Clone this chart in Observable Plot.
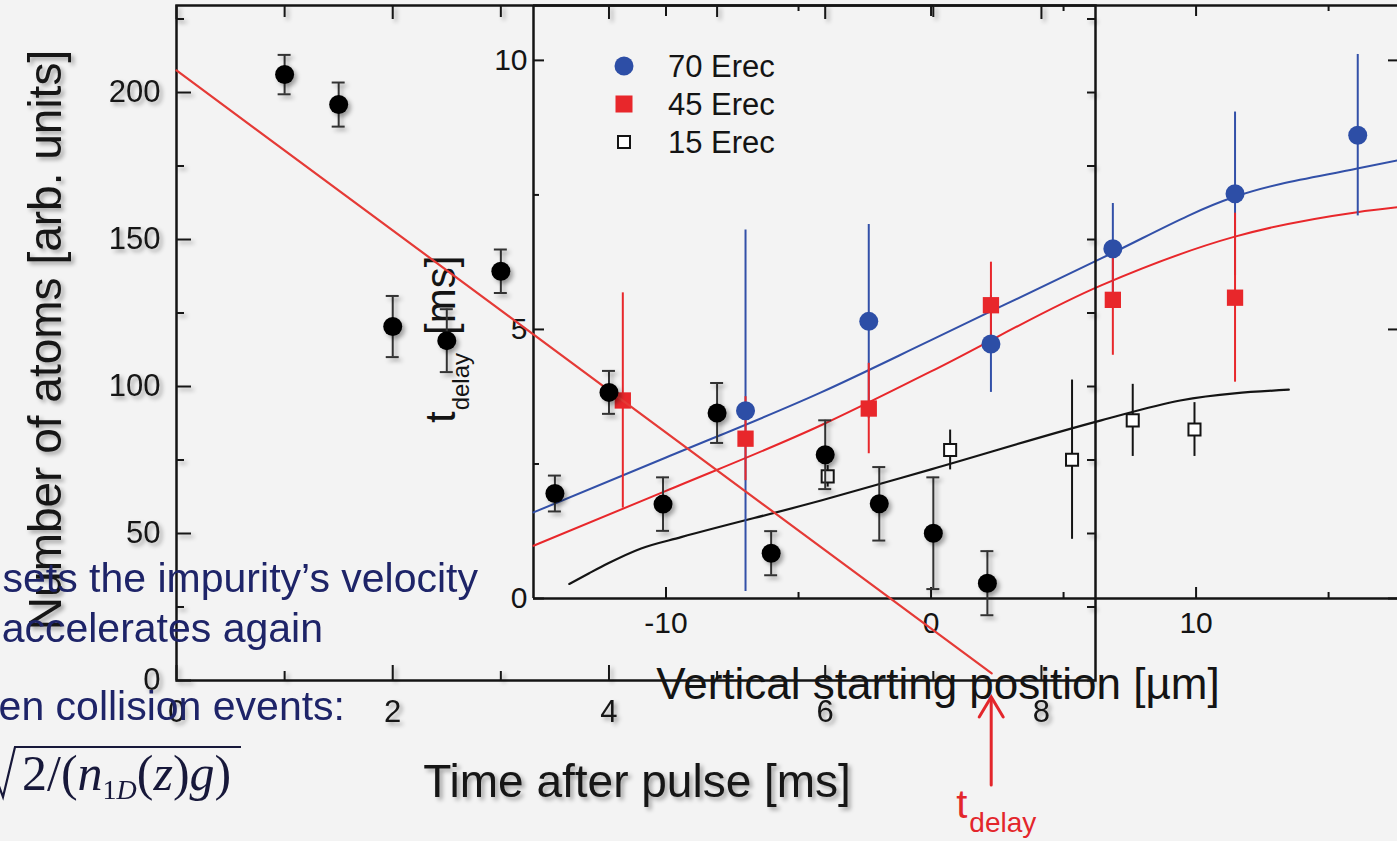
<!DOCTYPE html>
<html lang="en">
<head>
<meta charset="utf-8">
<title>Atom number and delay time</title>
<script src="https://cdn.jsdelivr.net/npm/d3@7"></script>
<script src="https://cdn.jsdelivr.net/npm/@observablehq/plot@0.6"></script>
<style>
  html, body { margin: 0; padding: 0; background: #f3f3f3; }
  #stage { position: relative; width: 1397px; height: 841px; overflow: hidden; background: #f3f3f3; }
  #stage > svg { position: absolute; left: 0; top: 0; max-width: none !important; }
</style>
</head>
<body>
<div id="stage"></div>
<script>
// ---------- Outer panel: atom number after the pulse ----------
const pulseTime  = [1.0, 1.5, 2.0, 2.5, 3.0, 3.5, 4.0, 4.5, 5.0, 5.5, 6.0, 6.5, 7.0, 7.5];
const atomNumber = [206.1, 195.9, 120.4, 115.6, 139.2, 63.6, 98.0, 60.0, 91.0, 43.3, 76.8, 60.1, 50.1, 33.1];
const atomError  = [6.7, 7.5, 10.4, 10.7, 7.4, 6.1, 7.3, 9.1, 10.2, 7.5, 11.7, 12.5, 19.0, 10.9];
// linear fit of the decay, ending where it meets the axis (t_delay)
const decayFitTime  = [0, 7.54];
const decayFitAtoms = [207.5, 2.4];
const tDelay = 7.54;
const timeTicks      = [0, 2, 4, 6, 8];
const timeMinorTicks = [1, 3, 5, 7];
const atomTicks      = [0, 50, 100, 150, 200];
const atomMinorTicks = [25, 75, 125, 175, 225];

// ---------- Inset panel: delay time vs vertical starting position ----------
const seriesNames = ["70 Erec", "45 Erec", "15 Erec"];
const pos70   = [-7.0, -2.35, 2.26, 6.86, 11.47, 16.1];
const delay70 = [3.49, 5.15, 4.73, 6.50, 7.52, 8.61];
const err70   = [3.36, 1.80, 0.90, 0.84, 1.52, 1.50];
const pos45   = [-11.63, -7.0, -2.35, 2.26, 6.86, 11.47];
const delay45 = [3.68, 2.97, 3.53, 5.45, 5.55, 5.59];
const err45   = [2.00, 0.78, 0.84, 0.80, 1.03, 1.57];
const pos15   = [-3.9, 0.72, 5.32, 7.61, 9.94];
const delay15 = [2.27, 2.76, 2.58, 3.31, 3.14];
const err15   = [0.20, 0.37, 1.48, 0.67, 0.50];
// model curves
const fit70Pos   = [-15, -10, -4.15, 0, 6.42, 11.43, 16.08, 17.6];
const fit70Delay = [1.60, 2.62, 3.83, 4.80, 6.32, 7.46, 7.99, 8.14];
const fit45Pos   = [-15, -10, -4.15, 0, 6.42, 11.43, 16.08, 17.6];
const fit45Delay = [0.98, 2.00, 3.22, 4.22, 5.82, 6.72, 7.18, 7.27];
const fit15Pos   = [-13.65, -12.9, -12.2, -10.94, -9.43, -4.15, 0, 6.42, 9.4, 13.5];
const fit15Delay = [0.27, 0.47, 0.65, 0.93, 1.14, 1.82, 2.40, 3.31, 3.68, 3.88];
const posTicks        = [-10, 0, 10];
const posMinorTicks   = [-5, 5, 15];
const delayTicks      = [0, 5, 10];
const delayMinorTicks = [2.5, 7.5];

// ---------- styling ----------
const W = 1397, H = 841;
const ink = "#141414", blue = "#3250a8", red = "#e8272b", fitRed = "#e53a36", navy = "#1e2468";
const sans = "Liberation Sans, Arial, Helvetica, sans-serif";
const serif = "Liberation Serif, Times New Roman, serif";

const rows = (xs, ys, es) => xs.map((x, i) => ({x, y: ys[i], e: es ? es[i] : 0}));
const atoms = rows(pulseTime, atomNumber, atomError);
const decayFit = rows(decayFitTime, decayFitAtoms);
const s70 = rows(pos70, delay70, err70);
const s45 = rows(pos45, delay45, err45);
const s15 = rows(pos15, delay15, err15);
const f70 = rows(fit70Pos, fit70Delay);
const f45 = rows(fit45Pos, fit45Delay);
const f15 = rows(fit15Pos, fit15Delay);

const stage = document.getElementById("stage");

// ===== Inset panel =====
const iM = {left: 533, right: 0, top: 5, bottom: 243};
const iW = W - iM.left - iM.right, iH = H - iM.top - iM.bottom;
const posDomain = [-15, 17.6], delayDomain = [0, 11.02];
const frameLine = {stroke: ink, strokeWidth: 2.5};
const tickLine = {stroke: ink, strokeWidth: 2};

const inset = Plot.plot({
  width: W, height: H,
  marginLeft: iM.left, marginRight: iM.right, marginTop: iM.top, marginBottom: iM.bottom,
  x: {domain: posDomain},
  y: {domain: delayDomain},
  style: {background: "transparent", fontFamily: sans, fontSize: "30px", color: ink, overflow: "visible"},
  marks: [
    // frame: left, bottom, top
    Plot.ruleX([posDomain[0]], frameLine),
    Plot.ruleY([delayDomain[0]], frameLine),
    Plot.ruleY([delayDomain[1]], frameLine),
    // inward ticks
    Plot.ruleX(posTicks, {...tickLine, insetTop: iH - 11}),
    Plot.ruleX(posMinorTicks, {...tickLine, insetTop: iH - 6}),
    Plot.ruleX(posTicks, {...tickLine, insetBottom: iH - 11}),
    Plot.ruleX(posMinorTicks, {...tickLine, insetBottom: iH - 6}),
    Plot.ruleY(delayTicks, {...tickLine, insetRight: iW - 11}),
    Plot.ruleY(delayMinorTicks, {...tickLine, insetRight: iW - 6}),
    Plot.ruleY(delayTicks, {...tickLine, insetLeft: iW - 9}),
    Plot.axisX(posTicks, {anchor: "bottom", tickSize: 0, tickPadding: 13, label: null, tickFormat: d => d < 0 ? "-" + (-d) : String(d)}),
    Plot.axisY(delayTicks, {anchor: "left", tickSize: 0, tickPadding: 6, label: null, tickFormat: d => String(d)}),
    // model curves
    Plot.line(f70, {x: "x", y: "y", curve: "monotone-x", stroke: blue, strokeWidth: 2}),
    Plot.line(f45, {x: "x", y: "y", curve: "monotone-x", stroke: red, strokeWidth: 2}),
    Plot.line(f15, {x: "x", y: "y", curve: "monotone-x", stroke: ink, strokeWidth: 2.2}),
    // error bars and points
    Plot.ruleX(s15, {x: "x", y1: d => d.y - d.e, y2: d => d.y + d.e, stroke: ink, strokeWidth: 2}),
    Plot.ruleX(s70, {x: "x", y1: d => d.y - d.e, y2: d => d.y + d.e, stroke: blue, strokeWidth: 2}),
    Plot.ruleX(s45, {x: "x", y1: d => d.y - d.e, y2: d => d.y + d.e, stroke: red, strokeWidth: 2}),
    Plot.dot(s45, {x: "x", y: "y", symbol: "square", r: 9.2, fill: red}),
    Plot.dot(s70, {x: "x", y: "y", r: 9.5, fill: "#2d4ea6"}),
    Plot.dot(s15, {x: "x", y: "y", symbol: "square", r: 6.8, fill: "white", stroke: ink, strokeWidth: 2})
  ]
});
stage.appendChild(inset);

{
  const g = d3.select(inset);
  // axis titles
  g.append("text")
    .attr("x", 938).attr("y", 699)
    .attr("text-anchor", "middle")
    .attr("font-family", sans).attr("font-size", 44).attr("fill", ink)
    .text("Vertical starting position [µm]");
  const yt = g.append("text")
    .attr("transform", "translate(455,423) rotate(-90)")
    .attr("text-anchor", "start")
    .attr("font-family", sans).attr("font-size", 42).attr("fill", ink);
  yt.append("tspan").text("t");
  yt.append("tspan").attr("font-size", 24).attr("dy", 14).attr("dx", 1).text("delay");
  yt.append("tspan").attr("dy", -14).attr("dx", 18).text("[ms]");

  // legend
  const lg = g.append("g").attr("font-family", sans).attr("font-size", 31).attr("fill", ink)
    .attr("text-anchor", "start");
  const legendStyle = [
    {shape: "circle", fill: "#2d4ea6", stroke: "none"},
    {shape: "square", fill: red, stroke: "none", size: 17},
    {shape: "square", fill: "white", stroke: ink, size: 12}
  ];
  seriesNames.forEach((name, i) => {
    const cy = 66 + i * 38, cx = 624;
    const st = legendStyle[i];
    if (st.shape === "circle") {
      lg.append("circle").attr("cx", cx).attr("cy", cy).attr("r", 9.5).attr("fill", st.fill);
    } else {
      lg.append("rect").attr("x", cx - st.size / 2).attr("y", cy - st.size / 2)
        .attr("width", st.size).attr("height", st.size)
        .attr("fill", st.fill).attr("stroke", st.stroke).attr("stroke-width", 2);
    }
    lg.append("text").attr("x", 668).attr("y", cy + 11).text(name);
  });
}

// ===== Outer panel =====
const oM = {left: 176, right: 302, top: 5, bottom: 161};
const oW = W - oM.left - oM.right, oH = H - oM.top - oM.bottom;
const capHalf = 0.06;

const outer = Plot.plot({
  width: W, height: H,
  marginLeft: oM.left, marginRight: oM.right, marginTop: oM.top, marginBottom: oM.bottom,
  x: {domain: [0, 8.5]},
  y: {domain: [0, 229.6]},
  style: {background: "transparent", fontFamily: sans, fontSize: "31px", color: ink, overflow: "visible"},
  marks: [
    Plot.frame({stroke: ink, strokeWidth: 2.5}),
    Plot.ruleX(timeTicks, {...tickLine, insetTop: oH - 15}),
    Plot.ruleX(timeMinorTicks, {...tickLine, insetTop: oH - 9}),
    Plot.ruleX(timeTicks, {...tickLine, insetBottom: oH - 14}),
    Plot.ruleX(timeMinorTicks, {...tickLine, insetBottom: oH - 12}),
    Plot.ruleY(atomTicks, {...tickLine, insetRight: oW - 15}),
    Plot.ruleY(atomMinorTicks, {...tickLine, insetRight: oW - 8}),
    Plot.ruleY([...atomTicks, ...atomMinorTicks], {...tickLine, insetLeft: oW - 8}),
    Plot.axisX(timeTicks, {anchor: "bottom", tickSize: 0, tickPadding: 19, label: null}),
    Plot.axisY(atomTicks, {anchor: "left", tickSize: 0, tickPadding: 16, label: null}),
    Plot.line(decayFit, {x: "x", y: "y", stroke: fitRed, strokeWidth: 2.2}),
    Plot.ruleX(atoms, {x: "x", y1: d => d.y - d.e, y2: d => d.y + d.e, stroke: "#333", strokeWidth: 2}),
    Plot.ruleY(atoms, {y: d => d.y - d.e, x1: d => d.x - capHalf, x2: d => d.x + capHalf, stroke: "#333", strokeWidth: 2}),
    Plot.ruleY(atoms, {y: d => d.y + d.e, x1: d => d.x - capHalf, x2: d => d.x + capHalf, stroke: "#333", strokeWidth: 2}),
    Plot.dot(atoms, {x: "x", y: "y", r: 9.5, fill: "#000"})
  ]
});
stage.appendChild(outer);

{
  const g = d3.select(outer);
  // soft drop shadow under the printed parts of this panel
  const f = g.insert("defs", ":first-child").append("filter")
    .attr("id", "outer-shadow").attr("filterUnits", "userSpaceOnUse")
    .attr("x", 0).attr("y", 0).attr("width", W).attr("height", H);
  f.append("feDropShadow").attr("dx", 3).attr("dy", 3).attr("stdDeviation", 2.2)
    .attr("flood-color", "#000").attr("flood-opacity", 0.33);
  g.selectAll('g[aria-label="dot"], g[aria-label="rule"], g[aria-label="x-axis tick label"], g[aria-label="y-axis tick label"]')
    .attr("filter", "url(#outer-shadow)");

  const titles = g.append("g").attr("font-family", sans).attr("font-size", 46).attr("fill", ink)
    .attr("text-anchor", "middle")
    .attr("filter", "url(#outer-shadow)");
  titles.append("text")
    .attr("transform", "translate(61,340) rotate(-90)")
    .text("Number of atoms [arb. units]");
  titles.append("text")
    .attr("x", 637).attr("y", 797)
    .text("Time after pulse [ms]");

  // t_delay marker below the time axis
  const xs = outer.scale("x"), ys = outer.scale("y");
  const ax = xs.apply(tDelay), base = ys.apply(0);
  const arrow = g.append("g").attr("stroke", "#e3262b").attr("stroke-width", 3).attr("fill", "none")
    .attr("stroke-linecap", "round");
  arrow.append("line").attr("x1", ax).attr("x2", ax).attr("y1", base + 105).attr("y2", base + 18);
  arrow.append("path").attr("d", `M${ax - 12},${base + 37} L${ax},${base + 17} L${ax + 12},${base + 37}`);
  const lbl = g.append("text")
    .attr("x", ax - 35).attr("y", base + 138)
    .attr("text-anchor", "start")
    .attr("font-family", sans).attr("font-size", 40).attr("fill", "#e3262b");
  lbl.append("tspan").text("t");
  lbl.append("tspan").attr("font-size", 28).attr("dy", 14).attr("dx", 2).text("delay");
}

// ===== Slide text laid over the figure =====
{
  const top = d3.create("svg").attr("width", W).attr("height", H).attr("viewBox", `0 0 ${W} ${H}`);
  const body = top.append("g").attr("font-family", sans).attr("font-size", 41).attr("fill", navy)
    .attr("text-anchor", "end");
  body.append("text").attr("x", 478).attr("y", 592).text("sets the impurity’s velocity");
  body.append("text").attr("x", 323).attr("y", 642).text("accelerates again");
  body.append("text").attr("x", 345).attr("y", 720).text("en collision events:");

  const formulaInk = "#17183a";
  top.append("path")
    .attr("d", "M-4,778 L3,797 L15,747 L241,747")
    .attr("fill", "none").attr("stroke", formulaInk).attr("stroke-width", 2.2);
  const fx = top.append("text").attr("x", 22).attr("y", 790)
    .attr("font-family", serif).attr("font-size", 50).attr("fill", formulaInk);
  fx.append("tspan").text("2/(");
  fx.append("tspan").attr("font-style", "italic").text("n");
  fx.append("tspan").attr("font-size", 28).attr("dy", 9).text("1");
  fx.append("tspan").attr("font-size", 28).attr("font-style", "italic").text("D");
  fx.append("tspan").attr("dy", -9).text("(");
  fx.append("tspan").attr("font-style", "italic").text("z");
  fx.append("tspan").text(")");
  fx.append("tspan").attr("font-style", "italic").text("g");
  fx.append("tspan").text(")");
  stage.appendChild(top.node());
}
</script>
</body>
</html>
